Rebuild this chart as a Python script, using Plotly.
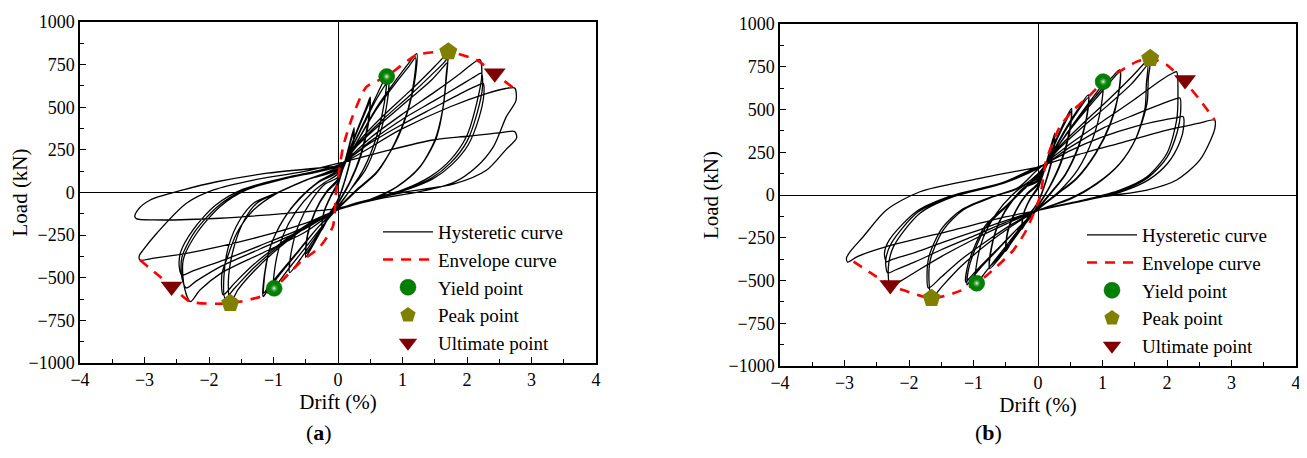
import plotly.graph_objects as go

# ---------------- Panel (a) data ----------------
hyst_a_drift = [
    0, 0.12, 0.25, 0.22, 0.12, 0, -0.12, -0.25, -0.22, -0.12,
    0, 0.12, 0.25, 0.22, 0.12, 0, -0.12, -0.25, -0.22, -0.12,
    0, 0.15, 0.3, 0.45, 0.5, 0.47, 0.35, 0.18, 0, -0.15, -0.3, -0.45, -0.5, -0.47, -0.35, -0.18,
    0, 0.15, 0.3, 0.45, 0.5, 0.47, 0.35, 0.18, 0, -0.15, -0.3, -0.45, -0.5, -0.47, -0.35, -0.18,
    0, 0.2, 0.4, 0.6, 0.75, 0.72, 0.6, 0.4, 0.2, 0, -0.2, -0.4, -0.6, -0.75, -0.72, -0.6, -0.4, -0.2,
    0, 0.2, 0.4, 0.6, 0.78, 0.75, 0.62, 0.42, 0.2, 0, -0.25, -0.5, -0.75, -0.95, -1.0, -0.97, -0.85, -0.65, -0.4, -0.2,
    0, 0.3, 0.6, 0.9, 1.1, 1.22, 1.2, 1.1, 0.9, 0.6, 0.3, 0, -0.3, -0.6, -0.9, -1.1, -1.16, -1.14, -1.05, -0.85, -0.6, -0.3,
    0, 0.3, 0.6, 0.9, 1.1, 1.2, 1.18, 1.08, 0.88, 0.6, 0.3, 0, -0.3, -0.6, -0.9, -1.1, -1.15, -1.13, -1.04, -0.84, -0.6, -0.3,
    0, 0.3, 0.7, 1.1, 1.45, 1.65, 1.71, 1.68, 1.64, 1.53, 1.27, 0.91, 0.5, 0, -0.4, -0.9, -1.3, -1.55, -1.67, -1.7, -1.62, -1.45, -1.25, -0.95, -0.5,
    0, 0.3, 0.7, 1.1, 1.45, 1.65, 1.7, 1.68, 1.63, 1.52, 1.26, 0.9, 0.5, 0, -0.4, -0.9, -1.3, -1.6, -1.75, -1.77, -1.7, -1.52, -1.3, -0.97, -0.5,
    0, 0.3, 0.7, 1.1, 1.45, 1.63, 1.69, 1.67, 1.62, 1.5, 1.25, 0.9, 0.5, 0, -0.4, -0.9, -1.3, -1.6, -1.78, -1.8, -1.73, -1.57, -1.31, -0.95, -0.49,
    0, 0.5, 1.0, 1.5, 1.9, 2.1, 2.2, 2.23, 2.15, 1.99, 1.74, 1.43, 1.0, 0.5, 0, -0.5, -1.2, -1.8, -2.14, -2.29, -2.38, -2.4, -2.19, -1.83, -1.42, -0.8,
    0, 0.5, 1.0, 1.5, 1.9, 2.12, 2.22, 2.24, 2.16, 2.0, 1.75, 1.45, 1.0, 0.5, 0, -0.5, -1.2, -1.8, -2.2, -2.35, -2.42, -2.42, -2.22, -1.86, -1.45, -0.8,
    0, 0.5, 1.0, 1.5, 1.9, 2.15, 2.25, 2.26, 2.18, 2.02, 1.77, 1.47, 1.0, 0.5, 0, -0.5, -1.2, -1.8, -2.25, -2.42, -2.46, -2.44, -2.25, -1.9, -1.48, -0.8,
    0, 0.96, 1.74, 2.3, 2.6, 2.74, 2.76, 2.61, 2.41, 2.15, 1.78, 1.27, 0.6, 0, -0.5, -1.31, -2.35, -2.85, -3.07, -3.08, -3.02, -2.81, -2.35, -1.93, -1.31, -0.54,
    0, 0.7, 1.47, 2.0, 2.5, 2.74, 2.77, 2.6, 2.3, 1.8, 1.0, 0.3, 0, -0.8, -1.83, -2.86, -3.12, -3.15, -3.1, -2.91, -2.4, -1.88, -1.1, -0.07,
]
hyst_a_load = [
    40, 200, 380, 250, 90, -40, -120, -220, -120, -30,
    50, 195, 360, 240, 85, -45, -115, -210, -115, -25,
    60, 220, 370, 510, 560, 420, 220, 60, -60, -150, -250, -350, -380, -250, -110, 0,
    70, 215, 360, 495, 540, 400, 210, 55, -65, -150, -245, -335, -360, -240, -105, 5,
    80, 250, 410, 570, 680, 530, 330, 140, 20, -80, -180, -290, -400, -470, -340, -180, -40, 50,
    90, 250, 400, 550, 650, 500, 310, 130, 20, -85, -200, -320, -440, -540, -560, -420, -250, -110, 0, 60,
    110, 300, 500, 660, 760, 815, 680, 500, 300, 120, 20, -90, -200, -340, -480, -580, -610, -480, -320, -160, -40, 60,
    120, 300, 490, 645, 740, 790, 660, 480, 290, 115, 15, -95, -200, -335, -470, -565, -590, -465, -310, -155, -35, 65,
    130, 290, 450, 590, 720, 800, 826, 700, 525, 327, 151, 34, -40, -100, -180, -320, -460, -570, -650, -520, -330, -160, -60, -5, 73,
    135, 280, 430, 565, 690, 765, 790, 670, 500, 315, 145, 30, -45, -100, -175, -310, -440, -560, -620, -500, -320, -160, -60, -5, 73,
    140, 275, 415, 545, 660, 735, 760, 640, 480, 305, 140, 30, -45, -100, -170, -300, -420, -530, -600, -480, -396, -239, -103, -5, 73,
    150, 320, 460, 590, 700, 760, 780, 690, 523, 327, 190, 93, 15, -40, -100, -230, -360, -470, -572, -640, -560, -396, -239, -83, 15, 83,
    155, 300, 430, 540, 630, 680, 700, 620, 470, 300, 175, 85, 10, -45, -100, -210, -330, -430, -520, -560, -500, -380, -230, -80, 15, 85,
    160, 290, 400, 500, 580, 625, 640, 570, 430, 280, 165, 80, 8, -45, -100, -200, -310, -400, -460, -484, -440, -350, -220, -75, 18, 88,
    160, 367, 503, 580, 610, 613, 540, 445, 269, 151, 56, 5, -40, -100, -180, -269, -357, -385, -396, -370, -337, -239, -63, 15, 73, 122,
    171, 240, 308, 330, 350, 357, 320, 250, 130, 50, 0, -60, -93, -122, -151, -161, -155, -142, -100, -44, 15, 63, 113, 151,
]
env_a_drift = [-3.07, -2.58, -2.29, -1.67, -1.2, -0.99, -0.6, -0.28, -0.08, -0.03, 0.08, 0.23, 0.44, 0.75, 1.22, 1.71, 2.15, 2.43, 2.72]
env_a_load = [-396, -550, -640, -650, -610, -562, -414, -318, -200, 0, 269, 450, 620, 680, 806, 826, 777, 697, 613]
yield_a_drift = [0.755, -0.99]
yield_a_load = [680, -562]
peak_a_drift = [1.71, -1.67]
peak_a_load = [826, -650]
ult_a_drift = [2.43, -2.58]
ult_a_load = [699, -552]

# ---------------- Panel (b) data ----------------
hyst_b_drift = [
    0, 0.13, 0.26, 0.23, 0.12, 0, -0.12, -0.25, -0.22, -0.12,
    0, 0.13, 0.26, 0.23, 0.12, 0, -0.12, -0.25, -0.22, -0.12,
    0, 0.15, 0.3, 0.45, 0.52, 0.49, 0.36, 0.18, 0, -0.15, -0.3, -0.45, -0.5, -0.47, -0.35, -0.18,
    0, 0.15, 0.3, 0.45, 0.52, 0.49, 0.36, 0.18, 0, -0.15, -0.3, -0.45, -0.5, -0.47, -0.35, -0.18,
    0, 0.2, 0.4, 0.6, 0.78, 0.75, 0.62, 0.42, 0.2, 0, -0.2, -0.4, -0.6, -0.75, -0.72, -0.6, -0.4, -0.2,
    0, 0.2, 0.4, 0.6, 0.78, 0.75, 0.62, 0.42, 0.2, 0, -0.2, -0.4, -0.6, -0.75, -0.72, -0.6, -0.4, -0.2,
    0, 0.25, 0.5, 0.75, 0.95, 1.01, 0.98, 0.85, 0.62, 0.35, 0.1, 0, -0.25, -0.5, -0.75, -0.92, -0.97, -0.95, -0.85, -0.65, -0.4, -0.2,
    0, 0.3, 0.6, 0.9, 1.15, 1.27, 1.25, 1.12, 0.9, 0.6, 0.3, 0, -0.3, -0.6, -0.9, -1.05, -1.1, -1.08, -1.0, -0.8, -0.49, -0.2,
    0, 0.3, 0.6, 0.9, 1.15, 1.27, 1.25, 1.12, 0.9, 0.6, 0.3, 0, -0.3, -0.6, -0.9, -1.07, -1.12, -1.1, -1.02, -0.82, -0.5, -0.2,
    0, 0.3, 0.7, 1.1, 1.45, 1.65, 1.74, 1.71, 1.69, 1.53, 1.27, 0.91, 0.5, 0, -0.4, -0.8, -1.2, -1.5, -1.65, -1.69, -1.67, -1.47, -1.16, -0.69, -0.3,
    0, 0.3, 0.7, 1.1, 1.45, 1.63, 1.7, 1.68, 1.66, 1.51, 1.25, 0.9, 0.5, 0, -0.4, -0.8, -1.2, -1.5, -1.7, -1.72, -1.69, -1.49, -1.18, -0.7, -0.3,
    0, 0.5, 1.0, 1.5, 1.9, 2.1, 2.15, 2.17, 2.15, 2.0, 1.69, 1.27, 0.7, 0, -0.5, -1.0, -1.5, -1.9, -2.2, -2.29, -2.32, -2.24, -1.83, -1.31, -0.54,
    0, 0.5, 1.0, 1.5, 1.9, 2.12, 2.2, 2.21, 2.16, 2.0, 1.7, 1.28, 0.7, 0, -0.5, -1.0, -1.5, -1.9, -2.22, -2.33, -2.36, -2.27, -1.86, -1.33, -0.55,
    0, 0.5, 1.0, 1.5, 1.9, 2.15, 2.25, 2.26, 2.2, 2.02, 1.72, 1.3, 0.7, 0, -0.5, -1.0, -1.5, -1.9, -2.25, -2.35, -2.38, -2.3, -1.88, -1.35, -0.55,
    0, 0.75, 1.27, 2.0, 2.5, 2.74, 2.75, 2.72, 2.51, 2.15, 1.69, 1.01, 0.5, 0, -0.49, -1.31, -2.35, -2.8, -2.95, -2.97, -2.91, -2.71, -2.35, -1.83, -1.0, 0.03,
]
hyst_b_load = [
    30, 190, 362, 240, 80, -40, -110, -200, -110, -25,
    40, 180, 340, 225, 75, -45, -105, -190, -105, -20,
    50, 200, 340, 460, 507, 380, 200, 50, -60, -140, -220, -300, -330, -220, -100, 0,
    60, 195, 330, 445, 490, 365, 190, 45, -65, -140, -215, -290, -320, -210, -95, 5,
    70, 230, 370, 490, 585, 450, 280, 120, 15, -75, -170, -270, -370, -430, -310, -160, -35, 45,
    80, 225, 360, 480, 570, 440, 270, 115, 10, -80, -170, -265, -360, -415, -300, -155, -30, 50,
    90, 250, 390, 520, 620, 655, 520, 330, 150, 30, -50, -80, -180, -300, -420, -500, -510, -400, -250, -110, 0, 60,
    100, 280, 440, 580, 690, 731, 600, 420, 250, 100, 10, -80, -190, -310, -430, -500, -526, -440, -341, -185, -68, 40,
    110, 280, 430, 565, 675, 720, 590, 410, 245, 95, 5, -85, -190, -305, -420, -490, -510, -430, -335, -180, -65, 45,
    120, 270, 420, 560, 690, 770, 799, 680, 536, 341, 185, 68, -20, -90, -180, -290, -420, -540, -604, -500, -380, -205, -88, -10, 40,
    125, 260, 400, 530, 650, 730, 760, 650, 510, 325, 175, 62, -25, -90, -170, -270, -380, -480, -544, -460, -360, -195, -85, -8, 45,
    150, 300, 430, 560, 670, 715, 721, 600, 439, 244, 107, 29, -30, -90, -170, -260, -360, -450, -520, -540, -420, -302, -107, -10, 68,
    155, 280, 390, 470, 530, 560, 567, 480, 370, 220, 100, 25, -30, -90, -160, -240, -320, -390, -440, -456, -380, -280, -100, -8, 70,
    160, 260, 340, 400, 435, 452, 458, 400, 310, 190, 90, 20, -35, -90, -150, -215, -280, -335, -375, -390, -340, -260, -95, -5, 72,
    165, 250, 304, 380, 420, 439, 410, 361, 205, 88, 29, -10, -50, -90, -127, -205, -302, -360, -392, -370, -330, -244, -88, 19, 90, 165,
]
env_b_drift = [-2.86, -2.5, -2.29, -2.09, -1.65, -1.31, -0.95, -0.64, -0.38, -0.18, 0.03, 0.13, 0.34, 0.55, 0.81, 1.01, 1.22, 1.53, 1.74, 2.0, 2.28, 2.51, 2.74]
env_b_load = [-390, -478, -526, -556, -604, -575, -516, -419, -322, -205, -10, 205, 400, 497, 585, 663, 712, 780, 799, 760, 660, 556, 439]
yield_b_drift = [1.01, -0.95]
yield_b_load = [663, -516]
peak_b_drift = [1.74, -1.65]
peak_b_load = [799, -604]
ult_b_drift = [2.28, -2.29]
ult_b_load = [672, -526]

x_ticks = [-4, -3, -2, -1, 0, 1, 2, 3, 4]
y_ticks = [-1000, -750, -500, -250, 0, 250, 500, 750, 1000]

SERIF = "Liberation Serif"
# the page body adds an 8px margin, so the figure is sized to fit the window
OFF = 8
W, H = 1307 - OFF, 458 - OFF


def fx(px):
    return (px - OFF) / W


def fy(py):
    return 1 - (py - OFF) / H


fig = go.Figure()


def add_panel(xa, ya, leg, hx, hy, ex, ey, yx, yy, px, py, ux, uy):
    fig.add_trace(go.Scatter(x=hx, y=hy, mode="lines", name="Hysteretic curve",
                             line=dict(color="black", width=1.3, shape="spline", smoothing=0.8),
                             xaxis=xa, yaxis=ya, legend=leg))
    fig.add_trace(go.Scatter(x=ex, y=ey, mode="lines", name="Envelope curve",
                             line=dict(color="#ff0000", width=2.6, dash="10px,8px", shape="spline", smoothing=0.6),
                             xaxis=xa, yaxis=ya, legend=leg))
    fig.add_trace(go.Scatter(x=yx, y=yy, mode="markers", name="Yield point",
                             marker=dict(symbol="circle", size=16, color="#008000",
                                         line=dict(color="#006400", width=0.5)),
                             xaxis=xa, yaxis=ya, legend=leg))
    fig.add_trace(go.Scatter(x=yx, y=yy, mode="markers", showlegend=False, hoverinfo="skip",
                             marker=dict(symbol="circle", size=10, color="rgba(0,128,0,0)",
                                         gradient=dict(type="radial", color="rgba(255,255,255,0.95)"),
                                         line=dict(width=0)),
                             xaxis=xa, yaxis=ya, legend=leg))
    fig.add_trace(go.Scatter(x=px, y=py, mode="markers", name="Peak point",
                             marker=dict(symbol="pentagon", size=19, color="#808000", line=dict(width=0)),
                             xaxis=xa, yaxis=ya, legend=leg))
    fig.add_trace(go.Scatter(x=ux, y=uy, mode="markers", name="Ultimate point",
                             marker=dict(symbol="triangle-down", size=19, color="#800000", line=dict(width=0)),
                             xaxis=xa, yaxis=ya, legend=leg))


add_panel("x", "y", "legend", hyst_a_drift, hyst_a_load, env_a_drift, env_a_load,
          yield_a_drift, yield_a_load, peak_a_drift, peak_a_load, ult_a_drift, ult_a_load)
add_panel("x2", "y2", "legend2", hyst_b_drift, hyst_b_load, env_b_drift, env_b_load,
          yield_b_drift, yield_b_load, peak_b_drift, peak_b_load, ult_b_drift, ult_b_load)

legend_common = dict(font=dict(family=SERIF, size=19, color="black"), bgcolor="rgba(0,0,0,0)",
                     borderwidth=0, xanchor="left", yanchor="top", itemwidth=50,
                     tracegroupgap=0)

fig.update_layout(
    width=W, height=H,
    template="none",
    font=dict(family=SERIF, size=18, color="black"),
    margin=dict(l=0, r=0, t=0, b=0, autoexpand=False),
    paper_bgcolor="white", plot_bgcolor="white",
    showlegend=True,
    xaxis=dict(domain=[fx(80), fx(596)], anchor="y"),
    yaxis=dict(domain=[fy(363), fy(22)], anchor="x"),
    xaxis2=dict(domain=[fx(780), fx(1296)], anchor="y2"),
    yaxis2=dict(domain=[fy(366), fy(24)], anchor="x2"),
    legend=dict(legend_common, x=fx(378), y=fy(213)),
    legend2=dict(legend_common, x=fx(1082), y=fy(216)),
    annotations=[
        dict(text="(<b>a</b>)", x=fx(304), y=fy(447), xref="paper", yref="paper",
             showarrow=False, font=dict(family=SERIF, size=22, color="black")),
        dict(text="(<b>b</b>)", x=fx(1004), y=fy(447), xref="paper", yref="paper",
             showarrow=False, font=dict(family=SERIF, size=22, color="black")),
    ],
)

common_ax = dict(showline=True, linecolor="black", linewidth=1.5, mirror=True,
                 ticks="inside", ticklen=6, tickwidth=1.2, tickcolor="black",
                 showgrid=False, zeroline=True, zerolinecolor="black", zerolinewidth=1.3,
                 automargin=False, ticklabeloverflow="allow",
                 tickfont_family=SERIF, tickfont_size=18, tickfont_color="black",
                 title_font_family=SERIF, title_font_size=21, title_font_color="black")

fig.update_xaxes(range=[-4, 4], tickmode="array", tickvals=x_ticks,
                 minor=dict(ticks="inside", ticklen=4, tickwidth=1.1, tickcolor="black", dtick=0.5, showgrid=False),
                 title_text="Drift (%)", title_standoff=4, **common_ax)
fig.update_yaxes(range=[-1000, 1000], tickmode="array", tickvals=y_ticks,
                 minor=dict(ticks="inside", ticklen=4, tickwidth=1.1, tickcolor="black", dtick=125, showgrid=False),
                 title_text="Load (kN)", title_standoff=4, **common_ax)

fig.write_html("out.html")
